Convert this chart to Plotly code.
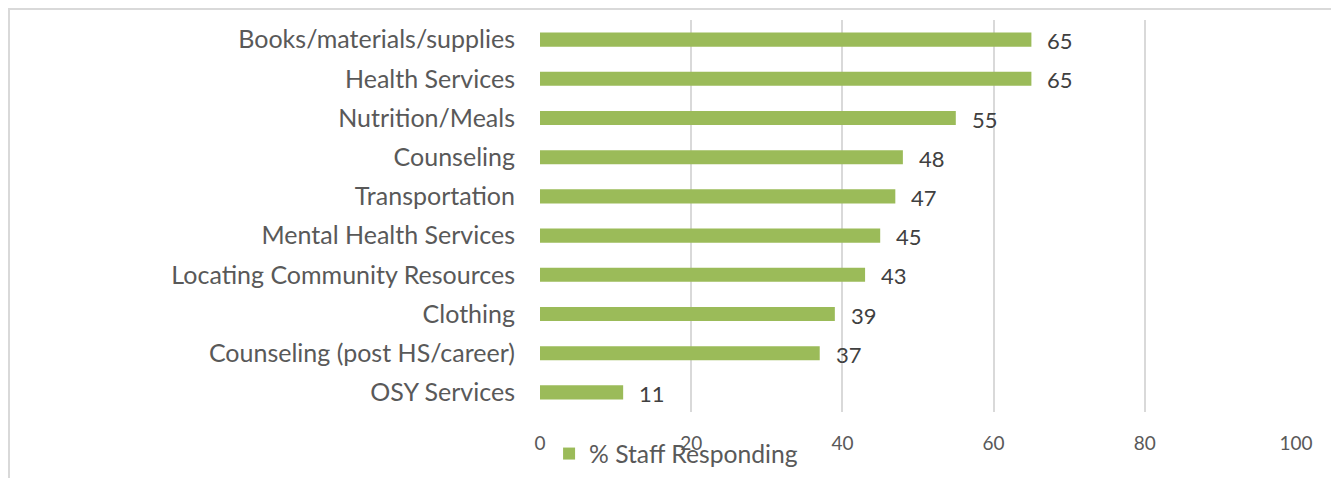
import plotly.graph_objects as go

categories = ["Books/materials/supplies", "Health Services", "Nutrition/Meals", "Counseling",
              "Transportation", "Mental Health Services", "Locating Community Resources",
              "Clothing", "Counseling (post HS/career)", "OSY Services"]
values = [65, 65, 55, 48, 47, 45, 43, 39, 37, 11]
series_name = "% Staff Responding"
x_ticks = [0, 20, 40, 60, 80, 100]

FONT = "Lato"
# page has an 8px body margin; figure coordinates below are page - 8
W, H = 1331, 470
L, R, T, B = 532, 43, 12, 66
pw, ph = W - L - R, H - T - B

fig = go.Figure()
fig.add_trace(go.Bar(
    y=categories, x=values, orientation="h", name=series_name,
    marker=dict(color="#9BBB59", line=dict(width=0)),
    showlegend=True,
))
for c, v in zip(categories, values):
    fig.add_annotation(x=v, y=c, text=str(v), showarrow=False, xanchor="left",
                       xshift=14, yshift=-1, font=dict(family=FONT, size=22, color="#404040"))

fig.add_shape(type="rect", xref="paper", yref="paper",
              x0=(1 - L) / pw, x1=(1329 - L) / pw,
              y0=-0.3, y1=(H - B - 1) / ph,
              line=dict(color="#D9D9D9", width=2), fillcolor="rgba(0,0,0,0)", layer="below")

fig.update_layout(
    width=W, height=H,
    margin=dict(l=L, r=R, t=T, b=B, autoexpand=False),
    paper_bgcolor="white", plot_bgcolor="white",
    bargap=0.64,
    font=dict(family=FONT, color="#595959"),
    legend=dict(orientation="h", x=0.012, xanchor="left", y=(H - B - 446) / ph, yanchor="middle",
                font=dict(family=FONT, size=24.7, color="#595959"), bgcolor="rgba(0,0,0,0)"),
    xaxis=dict(range=[0, 100], tickvals=x_ticks, showgrid=True, gridcolor="#D9D9D9", gridwidth=2,
               zeroline=False, showline=False, tickfont=dict(family=FONT, size=19, color="#595959"),
               ticks="", ticklabelstandoff=18, fixedrange=True, automargin=False),
    yaxis=dict(categoryorder="array", categoryarray=categories, autorange="reversed",
               showgrid=False, zeroline=False, showline=False, ticks="", automargin=False,
               tickfont=dict(family=FONT, size=25, color="#595959"), ticklabelstandoff=24),
)

fig.write_html("out.html")
